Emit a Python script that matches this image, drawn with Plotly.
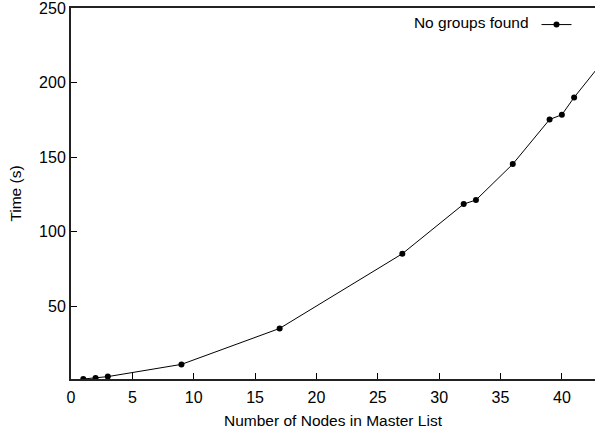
import plotly.graph_objects as go

# Master-list size vs. run time when no groups are found
nodes = [1, 2, 3, 9, 17, 27, 32, 33, 36, 39, 40, 41, 44]
time_s = [1.3, 2.0, 2.9, 11.1, 35.2, 85.3, 118.6, 121.3, 145.4, 175.3, 178.5, 190.1, 221.0]

x_ticks = [0, 5, 10, 15, 20, 25, 30, 35, 40]
y_ticks = [50, 100, 150, 200, 250]

FONT = "Liberation Sans, Arial, Helvetica, sans-serif"

fig = go.Figure()
fig.add_trace(go.Scatter(
    x=nodes, y=time_s, mode="lines+markers", name="",
    line=dict(color="black", width=1),
    marker=dict(color="black", size=6, symbol="circle"),
    cliponaxis=True,
))

fig.update_layout(
    width=595, height=432,
    margin=dict(l=71, r=0, t=8, b=53),
    paper_bgcolor="white", plot_bgcolor="white",
    font=dict(family=FONT, size=16, color="black"),
    showlegend=True,
    legend=dict(
        title=dict(text="No groups found", side="left", font=dict(size=15.5)),
        x=0.975, xanchor="right", y=1.0, yanchor="top",
        bgcolor="rgba(0,0,0,0)", borderwidth=0,
        font=dict(size=15.5), itemwidth=30,
    ),
    xaxis=dict(
        range=[0, 42.7], tickvals=x_ticks, ticktext=[str(v) for v in x_ticks],
        ticks="inside", ticklen=6, tickwidth=1, tickcolor="black",
        tickfont=dict(size=16), ticklabelstandoff=3,
        showline=True, linecolor="#222", linewidth=2, mirror=True,
        showgrid=False, zeroline=False,
        title=dict(text="Number of Nodes in Master List", standoff=10, font=dict(size=15.5)),
    ),
    yaxis=dict(
        range=[1.3, 250.05], tickvals=y_ticks, ticktext=[str(v) for v in y_ticks],
        ticks="inside", ticklen=6, tickwidth=1, tickcolor="black",
        tickfont=dict(size=16), ticklabeloverflow="allow",
        showline=True, linecolor="#222", linewidth=2,
        showgrid=False, zeroline=False,
        title=dict(text="Time (s)", standoff=14, font=dict(size=15.5)),
    ),
)

fig.write_html("out.html")
